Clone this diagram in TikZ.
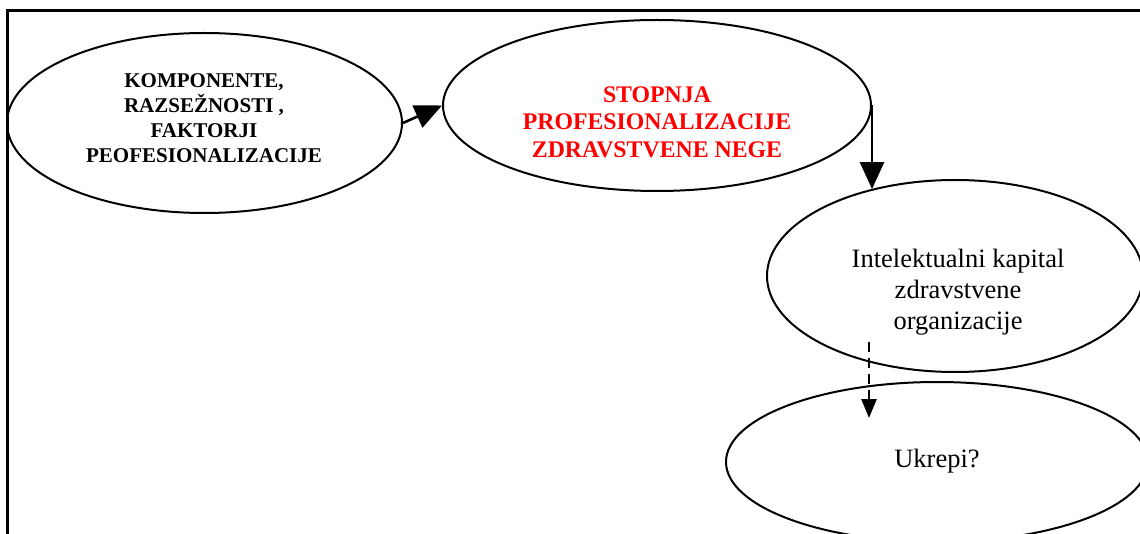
\documentclass[tikz,border=0pt]{standalone}
\usepackage{fontspec}
\setmainfont{Liberation Serif}
\usetikzlibrary{arrows.meta,shapes.geometric}
\begin{document}
\begin{tikzpicture}[x=1pt,y=-1pt,
  oval/.style={draw,ellipse,line width=2pt,inner sep=0pt},
  boldtxt/.style={font=\fontsize{21}{25}\selectfont\bfseries,align=center},
  redtxt/.style={font=\fontsize{23.8}{27.5}\selectfont\bfseries,align=center,text=red},
  plaintxt/.style={font=\fontsize{26.5}{31}\selectfont,align=center},
  link/.style={line width=2.6pt,-{Triangle[length=27pt,width=24pt]}},
  dlink/.style={line width=2.6pt,dash pattern=on 10pt off 6pt,-{Triangle[length=19pt,width=15pt]}}]
\useasboundingbox (0,0) rectangle (1140,534);
\clip (0,0) rectangle (1140,534);
% outer frame
\draw[line width=3pt] (7,545) -- (7,11) -- (1150,11);

% ovals
\node[oval,minimum width=395pt,minimum height=180pt] (e1) at (204.5,123) {};
\node[oval,minimum width=428pt,minimum height=171pt] (e2) at (657,105.5) {};
\node[oval,minimum width=376pt,minimum height=192pt] (e3) at (955,276) {};
\node[oval,minimum width=422pt,minimum height=160pt] (e4) at (937,462) {};

% texts
\node[boldtxt] (t1) at (204,118) {KOMPONENTE,\\RAZSEŽNOSTI ,\\FAKTORJI\\PEOFESIONALIZACIJE};
\node[redtxt] (t2) at (657,122) {STOPNJA\\PROFESIONALIZACIJE\\ZDRAVSTVENE NEGE};
\node[plaintxt] (t3) at (958,292) {Intelektualni kapital\\zdravstvene\\organizacije};
\node[plaintxt] (t4) at (937,461) {Ukrepi?};

% connectors
\draw[link] (e1.east) -- (e2.west);
\draw[link] (e2.east) -- (e2.east |- e3.134);
\coordinate (d1) at (869,342);
\coordinate (d2) at (869,418);
\draw[dlink] (d1) -- (d2);
\end{tikzpicture}
\end{document}
